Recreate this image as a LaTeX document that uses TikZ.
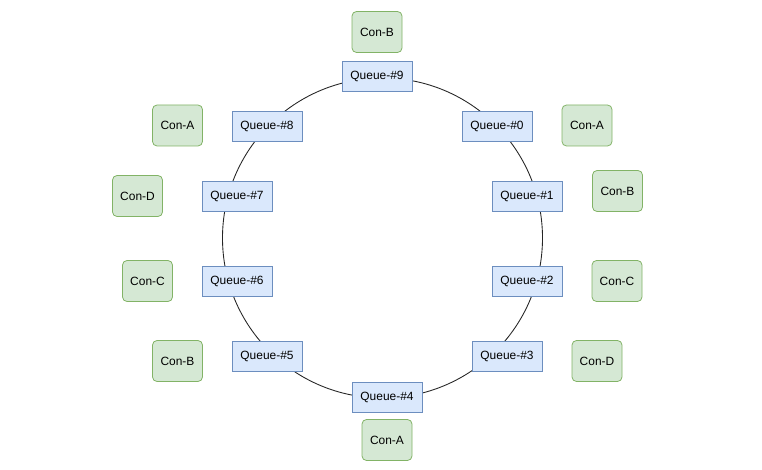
\documentclass[tikz,border=0pt]{standalone}
\usepackage{fontspec}
\setmainfont{Liberation Sans}
\definecolor{qfill}{HTML}{DAE8FC}
\definecolor{qline}{HTML}{6C8EBF}
\definecolor{cfill}{HTML}{D5E8D4}
\definecolor{cline}{HTML}{82B366}
\tikzset{
  queuebox/.style={draw=qline, fill=qfill, line width=0.45pt, minimum width=1.4cm, minimum height=0.6cm, inner sep=0pt, font=\fontsize{6.8}{8}\selectfont},
  conbox/.style={draw=cline, fill=cfill, line width=0.45pt, rounded corners=0.09cm, minimum width=1.0cm, minimum height=0.82cm, inner sep=0pt, font=\fontsize{6.8}{8}\selectfont}
}
\begin{document}
\begin{tikzpicture}
    % 画布大小
    \useasboundingbox (0,0) rectangle (15.24,9.38);

    % 定义圆心
    \coordinate (O) at (7.65,4.62);

    % 画环形（放在最底层）
    \draw[line width=0.5pt, black!85] (O) circle [radius=3.2];

    % === 队列节点 ===
    \node[queuebox] (q9) at (7.54,7.86) {Queue-\#9};
    \node[queuebox] (q0) at (9.94,6.86) {Queue-\#0};
    \node[queuebox] (q1) at (10.54,5.46) {Queue-\#1};
    \node[queuebox] (q2) at (10.54,3.76) {Queue-\#2};
    \node[queuebox] (q3) at (10.14,2.26) {Queue-\#3};
    \node[queuebox] (q4) at (7.74,1.44) {Queue-\#4};
    \node[queuebox] (q5) at (5.34,2.26) {Queue-\#5};
    \node[queuebox] (q6) at (4.74,3.76) {Queue-\#6};
    \node[queuebox] (q7) at (4.74,5.46) {Queue-\#7};
    \node[queuebox] (q8) at (5.34,6.86) {Queue-\#8};

    % === 消费者节点 ===
    \node[conbox] (c9) at (7.54,8.74) {Con-B};
    \node[conbox] (c0) at (11.74,6.87) {Con-A};
    \node[conbox] (c1) at (12.35,5.56) {Con-B};
    \node[conbox] (c2) at (12.34,3.76) {Con-C};
    \node[conbox] (c3) at (11.94,2.16) {Con-D};
    \node[conbox] (c4) at (7.74,0.58) {Con-A};
    \node[conbox] (c5) at (3.55,2.16) {Con-B};
    \node[conbox] (c6) at (2.95,3.76) {Con-C};
    \node[conbox] (c7) at (2.75,5.46) {Con-D};
    \node[conbox] (c8) at (3.55,6.87) {Con-A};
\end{tikzpicture}
\end{document}
